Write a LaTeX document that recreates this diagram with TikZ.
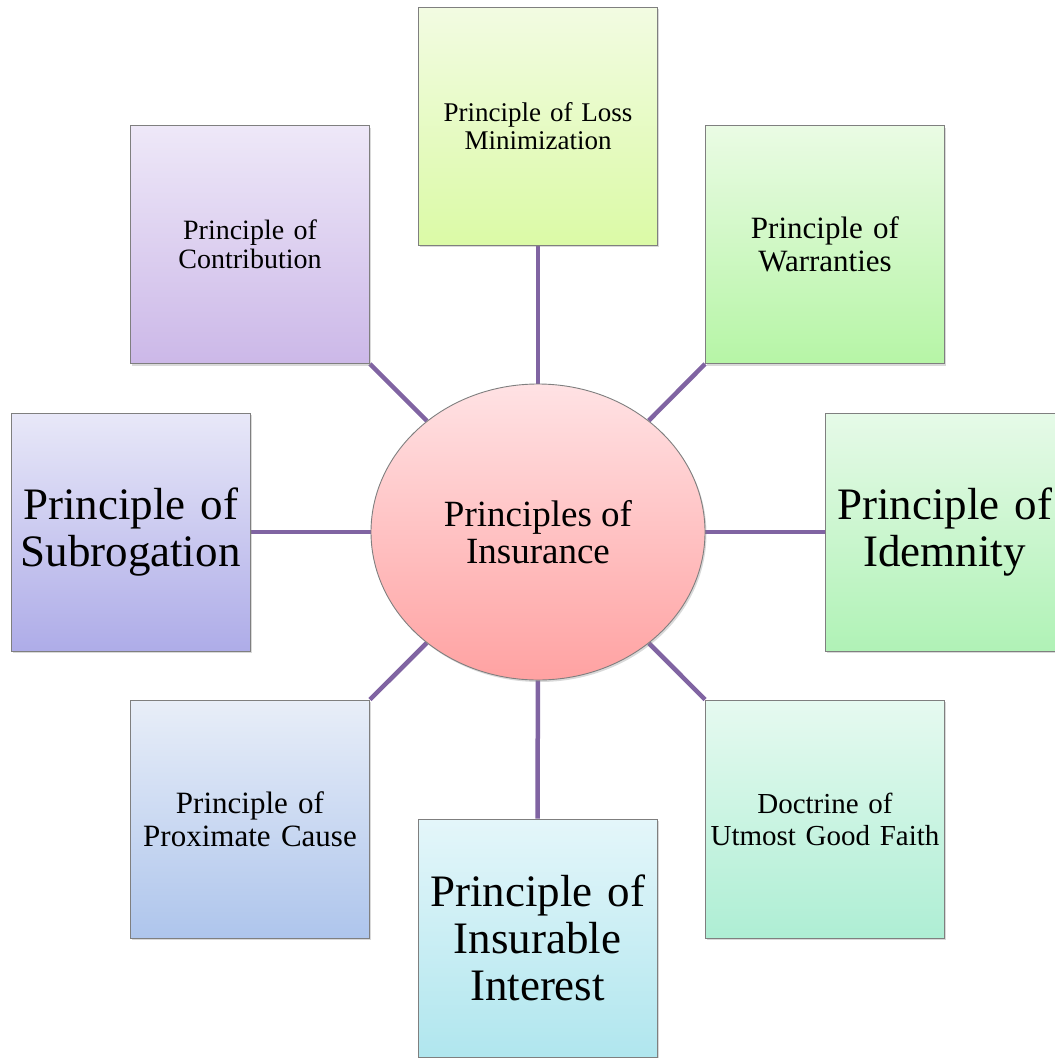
\documentclass[tikz,border=0pt]{standalone}
\usepackage{fontspec}
\setmainfont{Liberation Serif}
\usetikzlibrary{shadows,shapes.geometric,backgrounds}
\definecolor{linkc}{HTML}{8064A2}
\definecolor{edgec}{HTML}{7F7F7F}
\definecolor{lossT}{HTML}{F2FBE2}\definecolor{lossB}{HTML}{DBFAA6}
\definecolor{contT}{HTML}{EEE8F8}\definecolor{contB}{HTML}{CCB8E8}
\definecolor{warT}{HTML}{EAFBE4}\definecolor{warB}{HTML}{B6F5A6}
\definecolor{subT}{HTML}{E8E8F8}\definecolor{subB}{HTML}{AEACE8}
\definecolor{idemT}{HTML}{E6FAE8}\definecolor{idemB}{HTML}{B0F2B6}
\definecolor{proxT}{HTML}{E8EEF8}\definecolor{proxB}{HTML}{AEC5EC}
\definecolor{insT}{HTML}{E4F6FA}\definecolor{insB}{HTML}{B0E6EE}
\definecolor{utT}{HTML}{E6FAF0}\definecolor{utB}{HTML}{AEEED4}
\definecolor{cenT}{HTML}{FFE2E4}\definecolor{cenB}{HTML}{FFA2A2}
\begin{document}
\begin{tikzpicture}[x=1pt,y=-1pt,
  box/.style={draw=edgec, line width=0.9pt, minimum width=239pt, minimum height=238pt,
    inner sep=0pt, align=center, text width=232pt,
    drop shadow={shadow xshift=1.5pt,shadow yshift=-2pt,opacity=0.3}},
  link/.style={draw=linkc, line width=4.5pt}]
\useasboundingbox (0,0) rectangle (1055,1058);
\clip (0,0) rectangle (1055,1058);

\node[box, top color=lossT, bottom color=lossB, font=\fontsize{27}{27.5}\selectfont] (loss) at (538,126)
  {Principle of Loss\\Minimization};
\node[box, top color=contT, bottom color=contB, font=\fontsize{28}{28.5}\selectfont] (contrib) at (250,244.5)
  {Principle of\\Contribution};
\node[box, top color=warT, bottom color=warB, font=\fontsize{31}{33}\selectfont] (warr) at (825,244.5)
  {Principle of\\Warranties};
\node[box, top color=subT, bottom color=subB, font=\fontsize{45}{47}\selectfont] (subrog) at (130.5,532)
  {Principle of\\Subrogation};
\node[box, top color=idemT, bottom color=idemB, font=\fontsize{45}{47}\selectfont] (idem) at (944.5,532)
  {Principle of\\Idemnity};
\node[box, top color=proxT, bottom color=proxB, font=\fontsize{31}{33}\selectfont] (prox) at (250,819)
  {Principle of\\Proximate Cause};
\node[box, top color=insT, bottom color=insB, font=\fontsize{45}{47}\selectfont] (insur) at (537.5,938)
  {Principle of\\Insurable\\Interest};
\node[box, top color=utT, bottom color=utB, font=\fontsize{29}{32}\selectfont] (utmost) at (825,819)
  {Doctrine of\\Utmost Good Faith};

\node[ellipse, draw=edgec, line width=0.9pt, minimum width=334pt, minimum height=296pt,
  inner sep=0pt, align=center, top color=cenT, bottom color=cenB,
  font=\fontsize{37}{37.5}\selectfont,
  drop shadow={shadow xshift=1.5pt,shadow yshift=-2pt,opacity=0.3}] (cen) at (538,532)
  {Principles of\\Insurance};

\begin{scope}[on background layer]
\draw[link] (cen) -- (loss);
\draw[link] (cen) -- (insur);
\draw[link] (cen) -- (subrog);
\draw[link] (cen) -- (idem);
\draw[link] (cen) -- (contrib.south east);
\draw[link] (cen) -- (warr.south west);
\draw[link] (cen) -- (prox.north east);
\draw[link] (cen) -- (utmost.north west);
\end{scope}
\end{tikzpicture}
\end{document}
